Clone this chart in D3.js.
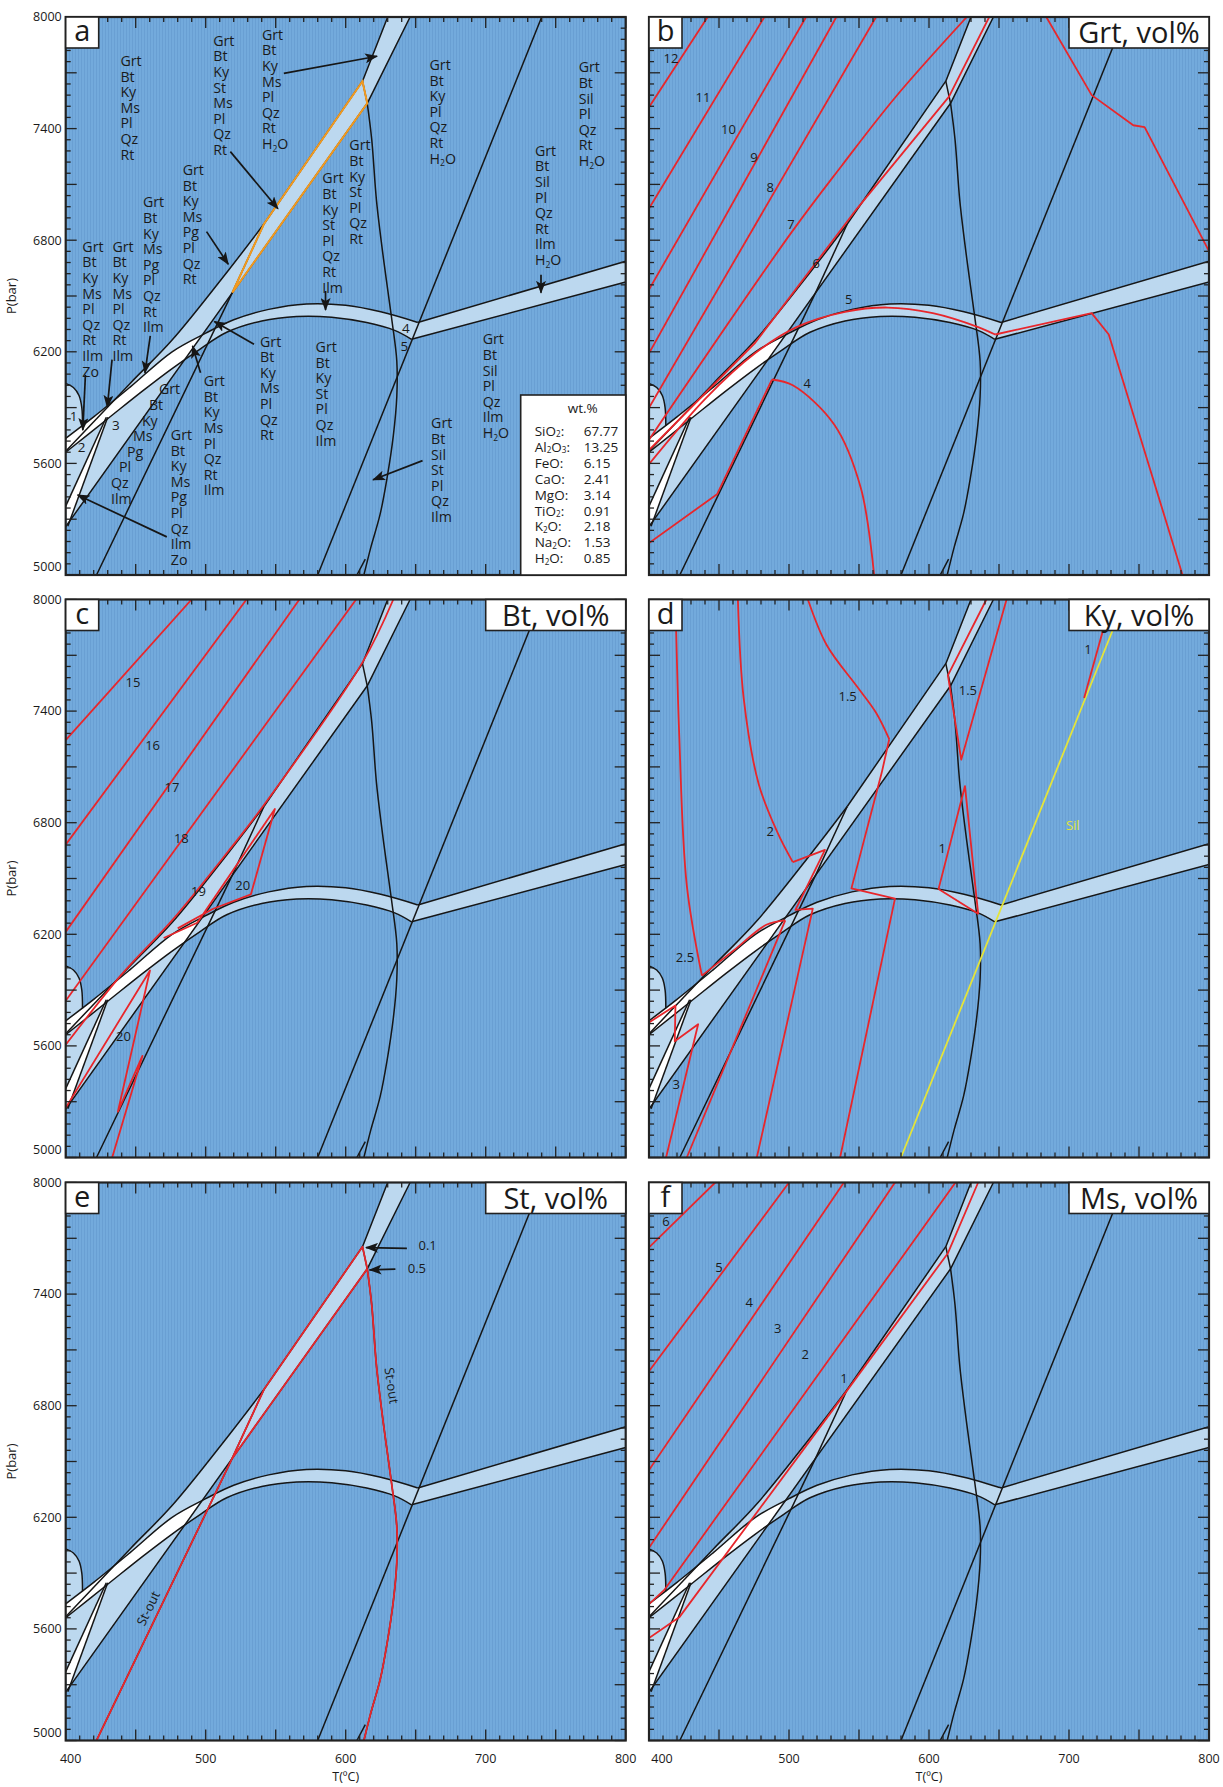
<!DOCTYPE html>
<html>
<head>
<meta charset="utf-8">
<script src="https://cdn.jsdelivr.net/npm/d3@7"></script>
<style>
  body { margin: 0; background: #fff; }
  svg { display: block; }
  text { font-family: "Open Sans", "DejaVu Sans", sans-serif; fill: #1a1a1a; }
</style>
</head>
<body>
<svg id="fig" width="1223" height="1787"></svg>
<script>
// ---- phase diagram boundaries, [T (degC), P (bar)] ----
const BU_CURVE = [[400,5665],[446,6030],[476,6263],[516,6636],[541.6,6887]];
const BU_STRAIGHT = [[541.6,6887],[612,7655],[630,8000]];
const BL = [[400,5260],[615.4,7536],[646,8000]];
const DU_CURVE = [[400,5735],[420,5850],[446,6010],[476,6200],[500,6300],[520,6372],[545,6428],[572,6457],[600,6450],[625,6415],[651.5,6358]];
const DU_STRAIGHT = [[651.5,6358],[800,6687]];
const DL_CURVE = [[400,5660],[430,5840],[455,5990],[476,6110],[496,6215],[515,6305],[540,6366],[565,6390],[590,6386],[615,6357],[635,6315],[647,6267]];
const DL_STRAIGHT = [[647,6267],[800,6575]];
const W2A = [[400,5370],[429,5848]];
const W2B = [[401.5,5262],[430,5848]];
const LOOP = [[400,6030],[405.5,6008],[409.5,5965],[411.5,5900],[412,5802]];
const S1 = [[580,5000],[740,8000]];
const S2_TOP = [[612,7655],[615.4,7536]];
const S2 = [[615.4,7536],[618.6,7341],[622,7013],[627,6700],[632.8,6381],[636.5,6150],[636.5,5960],[634,5748],[629.5,5520],[624.6,5327],[618,5150],[613,5000]];
const L3 = [[422,5000],[519,6518],[541.6,6887]];
const FORK = [[608,5000],[614,5085]];
const W1_UPPER = [[400,5735],[420,5850],[446,6010],[476,6200]];
const W1_TIP = [[496,6285],[485,6158]];
const W1_LOWER = [[476,6110],[455,5990],[430,5840],[400,5660]];

// ---- panel a ----
const ST_FIELD = [[519,6518],[541.6,6887],[612,7655],[615.4,7536]];
const A_FIELDS = [
  {lines:['Grt','Bt','Ky','Ms','Pl','Qz','Rt'], T:439.1, P:7737},
  {lines:['Grt','Bt','Ky','St','Ms','Pl','Qz','Rt'], T:505.4, P:7845},
  {lines:['Grt','Bt','Ky','Ms','Pl','Qz','Rt','H2O'], T:540.2, P:7877},
  {lines:['Grt','Bt','Ky','St','Pl','Qz','Rt'], T:602.6, P:7283},
  {lines:['Grt','Bt','Ky','St','Pl','Qz','Rt','Ilm'], T:583.3, P:7105},
  {lines:['Grt','Bt','Ky','Ms','Pg','Pl','Qz','Rt'], T:483.6, P:7151},
  {lines:['Grt','Bt','Ky','Ms','Pg','Pl','Qz','Rt','Ilm'], T:455.2, P:6976},
  {lines:['Grt','Bt','Ky','Ms','Pl','Qz','Rt','Ilm'], T:433.4, P:6738},
  {lines:['Grt','Bt','Ky','Ms','Pl','Qz','Rt','Ilm','Zo'], T:411.9, P:6738},
  {lines:['Grt','Bt','Ky','Ms','Pg','Pl','Qz','Ilm'], T:466.6, P:5971, slant:[0,-10,-17,-26,-32,-40,-48,-48]},
  {lines:['Grt','Bt','Ky','Ms','Pg','Pl','Qz','Ilm','Zo'], T:475.1, P:5726},
  {lines:['Grt','Bt','Ky','Ms','Pl','Qz','Rt','Ilm'], T:498.6, P:6015},
  {lines:['Grt','Bt','Ky','Ms','Pl','Qz','Rt'], T:538.8, P:6228},
  {lines:['Grt','Bt','Ky','St','Pl','Qz','Ilm'], T:578.5, P:6199},
  {lines:['Grt','Bt','Ky','Pl','Qz','Rt','H2O'], T:659.9, P:7715},
  {lines:['Grt','Bt','Sil','Pl','Qz','Rt','H2O'], T:766.4, P:7702},
  {lines:['Grt','Bt','Sil','Pl','Qz','Rt','Ilm','H2O'], T:735.2, P:7254},
  {lines:['Grt','Bt','Sil','Pl','Qz','Ilm','H2O'], T:697.9, P:6240},
  {lines:['Grt','Bt','Sil','St','Pl','Qz','Ilm'], T:661, P:5788}
];
const A_ARROWS = [
  [[517.6,7276],[551.6,6969]], [[555.8,7697],[622.4,7789]], [[585.6,6527],[585.6,6425]],
  [[500.6,6846],[516.1,6671]], [[460.4,6286],[456.6,6087]], [[433.1,6158],[429.7,5902]],
  [[414.1,6076],[412.2,5779]], [[472.2,5205],[408.5,5430]], [[496.3,6087],[490.6,6231]],
  [[534.5,6241],[506.2,6363]], [[739.5,6614],[739.5,6517]], [[654.9,5615],[619.5,5512]]
];
const A_NUMBERS = [['1',405.6,5851],['2',411.4,5687],['3',435.9,5806],['4',643,6328],['5',641.9,6229]];
const OXIDES = ['SiO2:','Al2O3:','FeO:','CaO:','MgO:','TiO2:','K2O:','Na2O:','H2O:'];
const WT = ['67.77','13.25','6.15','2.41','3.14','0.91','2.18','1.53','0.85'];

// ---- isopleths ----
const RED_B = {
  '12': [[400,7515],[441.9,8000]],
  '11': [[400,6970],[482.4,8000]],
  '10': [[400,6535],[512.2,8000]],
  '9': [[400,6192],[533.8,8000]],
  '8': [[400,5899],[562.2,8000]],
  '7': [[400,5727],[501.4,6838],[537.8,7202],[575.7,7566],[627,8000]],
  '6': [[400,5672],[476,6250],[548.6,6970],[614.3,7572],[643,8000]],
  '5a': [[400,5596],[440.5,5950],[475.7,6192],[505.4,6333],[540,6415],[570.3,6438],[602.7,6408],[635.1,6333],[647.3,6293]],
  '5b': [[647.3,6293],[716.2,6408],[728.4,6293],[781.1,5000]],
  '4a': [[400,5172],[448.6,5434],[487.8,6051]],
  '4b': [[487.8,6051],[502.7,6020],[532.4,5808],[551.4,5465],[560.8,5000]],
  'x': [[683.8,8000],[716.2,7580],[745.9,7418],[754,7408],[800,6741]]
};
const LAB_B = [['12',415.7,7778],['11',438.6,7570],['10',456.8,7394],['9',474.9,7246],['8',486.5,7081],['7',501.4,6885],['6',519.5,6677],['5',542.7,6479],['4',513,6030]];

const RED_C = {
  '15': [[400,7244],[489.9,8000]],
  '16': [[400,6682],[529.1,8000]],
  '17': [[400,6213],[566.9,8000]],
  '18': [[400,5843],[607.4,8000]],
  '19': [[400,5606],[440,5985],[476,6275],[516,6645],[541.6,6895],[612,7662],[634,8000]],
  '20u': [[470,6180],[494,6262],[549.4,6874],[532.3,6415],[505,6336],[480,6232]],
  '20l': [[400,5267],[460.2,6005],[437.3,5247],[454.8,5546],[433.2,5000]]
};
const LAB_C = [['15',448.1,7555],['16',462.1,7218],['17',475.9,6989],['18',482.6,6718],['19',494.8,6429],['20',526.4,6460],['20',441.3,5651]];

const RED_D = {
  'a': [[418.9,8000],[421.6,7270],[427,6463],[437.8,5978]],
  'a2': [[437.8,5978],[460,6110],[483.8,6251],[497.3,6275]],
  'b': [[463.5,8000],[467.6,7471],[478.4,7007],[491.9,6745],[502.7,6588]],
  'b2': [[502.7,6588],[525.7,6654],[504.6,6331],[517,6338],[477,5000]],
  'c': [[513.5,8000],[527,7754],[548.6,7532],[562.2,7391],[571.6,7249]],
  'c2': [[571.6,7249],[566.2,7068],[544.6,6447],[575.7,6392],[536.5,5000]],
  'd': [[497.3,6275],[427,5000]],
  'e': [[400,5726],[418.9,5817],[418.4,5625],[435.1,5716],[412.2,5000]],
  'f1': [[641,8000],[613.5,7592],[623,7139],[655.4,8000]],
  'f2': [[606.8,6443],[625.7,6997],[635.1,6311],[606.8,6443]],
  'g': [[724.3,7835],[710.8,7471]]
};
const LAB_D = [['1.5',541.9,7481],['1.5',627.8,7512],['2',486.5,6755],['1',609.5,6664],['2.5',425.7,6073],['3',419.5,5393],['1',713.5,7730]];

const RED_E = {
  'st1': [[422,5000],[519,6518],[541.6,6887],[612,7655],[615.4,7536]],
  'st2': S2,
  'p05': [[519,6518],[615.4,7536]]
};
const E_ARROWS = [[[643.7,7646],[614.5,7650]], [[635.5,7534],[617,7530]]];
const LAB_E = [['0.1',652,7663],['0.5',644.3,7536]];

const RED_F = {
  '6': [[400,7651],[447.3,8000]],
  '5': [[400,6985],[500,8000]],
  '4': [[400,6454],[539.2,8000]],
  '3': [[400,6036],[575.7,8000]],
  '2': [[400,5733],[410.8,5808],[618.9,8000]],
  '1': [[400,5551],[421.6,5662],[533.8,6803],[613.5,7620],[635.1,8000]]
};
const LAB_F = [['6',412.2,7788],['5',450,7544],['4',471.6,7354],['3',491.9,7213],['2',511.6,7075],['1',539.2,6944]];

const CURVED = new Set(['b:7','b:5a','b:4b','c:19','d:a','d:a2','d:b','d:c','e:st2']);
const P_LABELS = [5000,5600,6200,6800,7400,8000];
const T_LABELS = [400,500,600,700,800];

const PW = 560, PH = 558;
const panels = [
  {id:'a', left:65.7, top:17,    title:null,        red:null,  labs:[]},
  {id:'b', left:649,  top:17,    title:'Grt, vol%', red:RED_B, labs:LAB_B},
  {id:'c', left:65.7, top:599.5, title:'Bt, vol%',  red:RED_C, labs:LAB_C},
  {id:'d', left:649,  top:599.5, title:'Ky, vol%',  red:RED_D, labs:LAB_D},
  {id:'e', left:65.7, top:1182.5,title:'St, vol%',  red:RED_E, labs:LAB_E},
  {id:'f', left:649,  top:1182.5,title:'Ms, vol%',  red:RED_F, labs:LAB_F}
];

const RED = '#e8262b', ORANGE = '#f39a1e', YELLOW = '#e4e43a', LIGHT = '#bcd8ef', INK = '#161616';

const svg = d3.select('#fig');
const defs = svg.append('defs');
const pat = defs.append('pattern').attr('id', 'stripes').attr('patternUnits', 'userSpaceOnUse')
  .attr('width', 3).attr('height', 10);
pat.append('rect').attr('width', 3).attr('height', 10).attr('fill', '#73aadc');
pat.append('rect').attr('width', 1).attr('height', 10).attr('fill', '#699fd3');
defs.append('marker').attr('id', 'head').attr('markerUnits', 'userSpaceOnUse')
  .attr('markerWidth', 13).attr('markerHeight', 10).attr('refX', 12).attr('refY', 5)
  .attr('orient', 'auto')
  .append('path').attr('d', 'M0,0 L13,5 L0,10 L3,5 Z').attr('fill', INK);

// chemical formula text: digits become small subscripts
function chem(sel, str, size, drop) {
  const parts = str.match(/[^0-9]+|[0-9]+/g);
  let down = false;
  parts.forEach(p => {
    const t = sel.append('tspan').text(p);
    if (/^[0-9]+$/.test(p)) {
      t.attr('font-size', size * 0.6).attr('dy', down ? 0 : size * drop);
      down = true;
    } else if (down) {
      t.attr('dy', -size * drop);
      down = false;
    }
  });
}

panels.forEach(pn => {
  const x = d3.scaleLinear().domain([400, 800]).range([pn.left, pn.left + PW]);
  const y = d3.scaleLinear().domain([5000, 8000]).range([pn.top + PH, pn.top]);
  const lin = d3.line().x(d => x(d[0])).y(d => y(d[1]));
  const smo = d3.line().curve(d3.curveCatmullRom.alpha(0.5)).x(d => x(d[0])).y(d => y(d[1]));
  const cont = s => s.replace(/^M/, 'L');
  const rev = a => a.slice().reverse();

  defs.append('clipPath').attr('id', 'clip-' + pn.id)
    .append('rect').attr('x', pn.left).attr('y', pn.top).attr('width', PW).attr('height', PH);
  const g = svg.append('g').attr('clip-path', `url(#clip-${pn.id})`);

  g.append('rect').attr('x', pn.left).attr('y', pn.top).attr('width', PW).attr('height', PH)
    .attr('fill', 'url(#stripes)');

  // light fields
  g.append('path').attr('fill', LIGHT)
    .attr('d', smo(BU_CURVE) + cont(lin(BU_STRAIGHT)) + cont(lin(rev(BL))) + 'Z');
  g.append('path').attr('fill', LIGHT)
    .attr('d', smo(DU_CURVE) + cont(lin(DU_STRAIGHT)) + cont(lin(rev(DL_STRAIGHT))) + cont(smo(rev(DL_CURVE))) + 'Z');
  g.append('path').attr('fill', LIGHT)
    .attr('d', smo(LOOP) + cont(lin([DU_CURVE[0]])) + 'Z');
  // white fields
  g.append('path').attr('fill', '#fff')
    .attr('d', smo(W1_UPPER) + cont(lin(W1_TIP)) + cont(smo(W1_LOWER)) + 'Z');
  g.append('path').attr('fill', '#fff')
    .attr('d', lin(W2A) + cont(lin(rev(W2B))) + 'Z');

  // black boundaries
  const blk = g.append('g').attr('fill', 'none').attr('stroke', INK).attr('stroke-width', 1.5)
    .attr('stroke-linejoin', 'round');
  [BU_CURVE, DU_CURVE, DL_CURVE, LOOP, S2].forEach(l => blk.append('path').attr('d', smo(l)));
  [BU_STRAIGHT, BL, DU_STRAIGHT, DL_STRAIGHT, W2A, W2B, S2_TOP, L3, FORK].forEach(l => blk.append('path').attr('d', lin(l)));
  if (pn.id === 'd') {
    g.append('path').attr('d', lin(S1)).attr('fill', 'none').attr('stroke', YELLOW).attr('stroke-width', 1.8);
  } else {
    blk.append('path').attr('d', lin(S1));
  }

  // isopleths
  if (pn.red) {
    const rg = g.append('g').attr('fill', 'none').attr('stroke', RED).attr('stroke-width', 1.8)
      .attr('stroke-linejoin', 'round');
    Object.entries(pn.red).forEach(([k, pts]) => {
      rg.append('path').attr('d', CURVED.has(pn.id + ':' + k) ? smo(pts) : lin(pts));
    });
  }
  pn.labs.forEach(([t, T, P]) => {
    g.append('text').attr('x', x(T)).attr('y', y(P)).attr('dy', '0.35em')
      .attr('text-anchor', pn.id === 'e' ? 'start' : 'middle').attr('font-size', 13).text(t);
  });

  if (pn.id === 'a') {
    g.append('path').attr('d', lin(ST_FIELD) + 'Z').attr('fill', 'none')
      .attr('stroke', ORANGE).attr('stroke-width', 2);
    A_FIELDS.forEach(f => {
      f.lines.forEach((ln, i) => {
        const t = g.append('text').attr('x', x(f.T) + (f.slant ? f.slant[i] : 0))
          .attr('y', y(f.P) + i * 15.6).attr('font-size', 14.2);
        chem(t, ln, 14.2, 0.2);
      });
    });
    A_ARROWS.forEach(a => {
      g.append('path').attr('d', lin(a)).attr('stroke', INK).attr('stroke-width', 1.7)
        .attr('fill', 'none').attr('marker-end', 'url(#head)');
    });
    A_NUMBERS.forEach(([t, T, P]) => {
      g.append('text').attr('x', x(T)).attr('y', y(P)).attr('dy', '0.35em')
        .attr('text-anchor', 'middle').attr('font-size', 13.5).text(t);
    });
  }
  if (pn.id === 'd') {
    g.append('text').attr('x', x(702.7)).attr('y', y(6785)).attr('dy', '0.35em')
      .attr('text-anchor', 'middle').attr('font-size', 13).style('fill', YELLOW).text('Sil');
  }
  if (pn.id === 'e') {
    E_ARROWS.forEach(a => {
      g.append('path').attr('d', lin(a)).attr('stroke', INK).attr('stroke-width', 1.8)
        .attr('fill', 'none').attr('marker-end', 'url(#head)');
    });
    g.append('text').attr('font-size', 13).attr('text-anchor', 'middle')
      .attr('transform', `translate(${x(459)},${y(5710)}) rotate(-64)`).attr('dy', '0.35em').text('St-out');
    g.append('text').attr('font-size', 13).attr('text-anchor', 'middle')
      .attr('transform', `translate(${x(632.8)},${y(6908)}) rotate(82)`).attr('dy', '0.35em').text('St-out');
  }

  // frame and ticks
  const fr = svg.append('g').attr('stroke', '#222');
  d3.range(400, 801, 10).forEach(T => {
    const L = T % 50 === 0 ? 11 : 5;
    fr.append('line').attr('x1', x(T)).attr('x2', x(T)).attr('y1', pn.top).attr('y2', pn.top + L).attr('stroke-width', 1.3);
    fr.append('line').attr('x1', x(T)).attr('x2', x(T)).attr('y1', pn.top + PH).attr('y2', pn.top + PH - L).attr('stroke-width', 1.3);
  });
  d3.range(5000, 8001, 60).forEach(P => {
    const L = (P - 5000) % 300 === 0 ? 11 : 5;
    fr.append('line').attr('y1', y(P)).attr('y2', y(P)).attr('x1', pn.left).attr('x2', pn.left + L).attr('stroke-width', 1.3);
    fr.append('line').attr('y1', y(P)).attr('y2', y(P)).attr('x1', pn.left + PW).attr('x2', pn.left + PW - L).attr('stroke-width', 1.3);
  });
  svg.append('rect').attr('x', pn.left).attr('y', pn.top).attr('width', PW).attr('height', PH)
    .attr('fill', 'none').attr('stroke', '#222').attr('stroke-width', 2.2);

  // letter box
  svg.append('rect').attr('x', pn.left).attr('y', pn.top).attr('width', 33).attr('height', 31)
    .attr('fill', '#fff').attr('stroke', '#222').attr('stroke-width', 1.6);
  svg.append('text').attr('x', pn.left + 16.5).attr('y', pn.top + 24).attr('text-anchor', 'middle')
    .attr('font-size', 29).text(pn.id);
  // title box
  if (pn.title) {
    svg.append('rect').attr('x', pn.left + PW - 140).attr('y', pn.top).attr('width', 140).attr('height', 31)
      .attr('fill', '#fff').attr('stroke', '#222').attr('stroke-width', 1.6);
    svg.append('text').attr('x', pn.left + PW - 70).attr('y', pn.top + 26).attr('text-anchor', 'middle')
      .attr('font-size', 29).text(pn.title);
  }
  // composition box
  if (pn.id === 'a') {
    const bx = pn.left + 455, by = pn.top + 378;
    svg.append('rect').attr('x', bx).attr('y', by).attr('width', PW - 455).attr('height', PH - 378)
      .attr('fill', '#fff').attr('stroke', '#222').attr('stroke-width', 1.6);
    svg.append('text').attr('x', bx + 62).attr('y', by + 18).attr('text-anchor', 'middle')
      .attr('font-size', 13.5).text('wt.%');
    OXIDES.forEach((o, i) => {
      chem(svg.append('text').attr('x', bx + 14).attr('y', by + 41 + i * 15.9).attr('font-size', 13.5), o, 13.5, 0.1);
      svg.append('text').attr('x', bx + 63).attr('y', by + 41 + i * 15.9).attr('font-size', 13.5).text(WT[i]);
    });
  }

  // axes text
  if (pn.left < 100) {
    P_LABELS.forEach(P => {
      svg.append('text').attr('x', pn.left - 4).attr('y', P === 5000 ? y(P) - 8 : y(P)).attr('dy', '0.35em')
        .attr('text-anchor', 'end').attr('font-size', 12.5).text(P);
    });
    svg.append('text').attr('transform', `translate(16,${pn.top + PH / 2}) rotate(-90)`)
      .attr('text-anchor', 'middle').attr('font-size', 13).text('P(bar)');
  }
  if (pn.top > 1000) {
    T_LABELS.forEach(T => {
      const shift = T === 400 ? (pn.left < 100 ? 5 : 13) : 0;
      svg.append('text').attr('x', x(T) + shift).attr('y', pn.top + PH + 22).attr('text-anchor', 'middle')
        .attr('font-size', 12.5).text(T);
    });
    svg.append('text').attr('x', pn.left + PW / 2).attr('y', pn.top + PH + 40).attr('text-anchor', 'middle')
      .attr('font-size', 12.5).text('T(ºC)');
  }
});
</script>
</body>
</html>
